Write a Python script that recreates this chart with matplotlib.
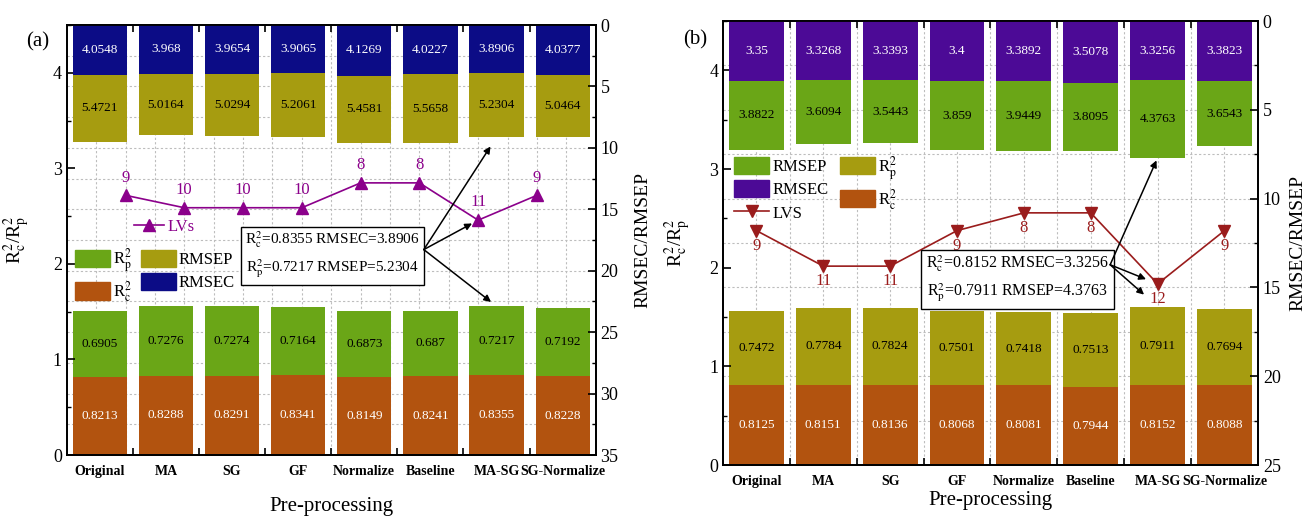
import numpy as np
import matplotlib
matplotlib.use("Agg")
import matplotlib.pyplot as plt
from matplotlib.patches import Patch
from matplotlib.lines import Line2D
from matplotlib.ticker import MultipleLocator, FixedLocator

plt.rcParams["font.family"] = ["Liberation Serif", "DejaVu Serif"]
plt.rcParams["mathtext.fontset"] = "stix"

# Categories (pre-processing methods)
CATEGORIES = ["Original", "MA", "SG", "GF", "Normalize", "Baseline", "MA-SG", "SG-Normalize"]

# Panel (a)
A_R2C = [0.8213, 0.8288, 0.8291, 0.8341, 0.8149, 0.8241, 0.8355, 0.8228]
A_R2P = [0.6905, 0.7276, 0.7274, 0.7164, 0.6873, 0.687, 0.7217, 0.7192]
A_RMSEC = [4.0548, 3.968, 3.9654, 3.9065, 4.1269, 4.0227, 3.8906, 4.0377]
A_RMSEP = [5.4721, 5.0164, 5.0294, 5.2061, 5.4581, 5.5658, 5.2304, 5.0464]
A_LVS = [9, 10, 10, 10, 8, 8, 11, 9]

# Panel (b)
B_R2C = [0.8125, 0.8151, 0.8136, 0.8068, 0.8081, 0.7944, 0.8152, 0.8088]
B_R2P = [0.7472, 0.7784, 0.7824, 0.7501, 0.7418, 0.7513, 0.7911, 0.7694]
B_RMSEC = [3.35, 3.3268, 3.3393, 3.4, 3.3892, 3.5078, 3.3256, 3.3823]
B_RMSEP = [3.8822, 3.6094, 3.5443, 3.859, 3.9449, 3.8095, 4.3763, 3.6543]
B_LVS = [9, 11, 11, 9, 8, 8, 12, 9]

NAVY = "#0c0c86"
OLIVE = "#a69c10"
GREEN = "#6aa617"
BROWN = "#b2530f"
INDIGO = "#4c0a96"
LV_A = "#8b008b"
LV_B = "#9a1c1c"

R2C_LABEL = r"R$^{2}_{\mathrm{c}}$"
R2P_LABEL = r"R$^{2}_{\mathrm{p}}$"


def draw_panel(fig, rect, r2c, r2p, rmsec, rmsep, lvs, cfg):
    x = np.arange(len(CATEGORIES))
    lv_x = np.arange(len(lvs)) + cfg["lv_x0"]

    # background grid layer (follows the RMSE axis and the LV x axis)
    ax_bg = fig.add_axes(rect, zorder=0)
    ax_bg.set_xlim(cfg["lv_xlim"])
    ax_bg.set_ylim(cfg["rmse_max"], 0)
    ax_bg.set_xticks(np.arange(cfg["lv_xlim"][0], cfg["lv_xlim"][1], 0.5)[1:])
    ax_bg.set_yticks(np.arange(2.5, cfg["rmse_max"], 2.5))
    ax_bg.grid(True, color="#bdbdbd", linestyle=(0, (2, 2)), linewidth=0.8)
    ax_bg.tick_params(length=0, labelleft=False, labelbottom=False)
    for s in ax_bg.spines.values():
        s.set_visible(False)

    # R2 bars, growing up from the bottom
    ax1 = fig.add_axes(rect, zorder=1)
    ax1.patch.set_visible(False)
    b1 = ax1.bar(x, r2c, width=0.82, color=cfg["c_r2c"])
    b2 = ax1.bar(x, r2p, width=0.82, bottom=r2c, color=cfg["c_r2p"])
    ax1.bar_label(b1, labels=[f"{v:g}" for v in r2c], label_type="center", color="white", fontsize=9.5)
    ax1.bar_label(b2, labels=[f"{v:g}" for v in r2p], label_type="center", color="black", fontsize=9.5)
    ax1.set_xlim(-0.5, len(CATEGORIES) - 0.5)
    ax1.set_ylim(0, 4.5)
    ax1.set_xticks(x)
    ax1.set_xticklabels(CATEGORIES, fontsize=10, fontweight="bold")
    ax1.xaxis.set_minor_locator(FixedLocator(x[:-1] + 0.5))
    ax1.tick_params(axis="x", which="major", length=0, pad=7)
    ax1.tick_params(axis="x", which="minor", direction="in", top=True, bottom=True, length=5, width=1.2)
    ax1.yaxis.set_major_locator(MultipleLocator(1))
    ax1.yaxis.set_minor_locator(MultipleLocator(0.5))
    ax1.tick_params(axis="y", which="major", direction="in", length=6, width=1.2, labelsize=13)
    ax1.tick_params(axis="y", which="minor", direction="in", length=3, width=1.0)
    ax1.set_xlabel("Pre-processing", fontsize=15, labelpad=cfg["xlabelpad"])
    ax1.set_ylabel(R2C_LABEL + "/" + R2P_LABEL, fontsize=14)
    ax1.yaxis.set_label_coords(cfg["ylab_l"], 0.5)
    for s in ax1.spines.values():
        s.set_linewidth(1.3)

    # RMSE bars, hanging from the top (inverted right axis)
    ax2 = ax1.twinx()
    b3 = ax2.bar(x, rmsec, width=0.82, color=cfg["c_rmsec"])
    b4 = ax2.bar(x, rmsep, width=0.82, bottom=rmsec, color=cfg["c_rmsep"])
    ax2.bar_label(b3, labels=[f"{v:g}" for v in rmsec], label_type="center", color="white", fontsize=9.5)
    ax2.bar_label(b4, labels=[f"{v:g}" for v in rmsep], label_type="center", color="black", fontsize=9.5)
    ax2.set_ylim(cfg["rmse_max"], 0)
    ax2.yaxis.set_major_locator(MultipleLocator(5))
    ax2.yaxis.set_minor_locator(MultipleLocator(2.5))
    ax2.tick_params(axis="y", which="major", direction="in", length=6, width=1.2, labelsize=13)
    ax2.tick_params(axis="y", which="minor", direction="in", length=3, width=1.0)
    ax2.set_ylabel("RMSEC/RMSEP", fontsize=14)
    ax2.yaxis.set_label_coords(cfg["ylab_r"], 0.5)
    for s in ax2.spines.values():
        s.set_linewidth(1.3)

    # LVs line on its own layer
    ax3 = fig.add_axes(rect, zorder=3)
    ax3.patch.set_visible(False)
    ax3.axis("off")
    ax3.set_xlim(cfg["lv_xlim"])
    ax3.set_ylim(cfg["lv_ylim"])
    ax3.plot(lv_x, lvs, color=cfg["c_lv"], marker=cfg["lv_marker"], markersize=9, linewidth=1.2)
    for xi, v in zip(lv_x, lvs):
        ax3.annotate(str(v), (xi, v), xytext=(0, cfg["lv_off"]), textcoords="offset points",
                     ha="center", va="bottom" if cfg["lv_off"] > 0 else "top",
                     color=cfg["c_lv"], fontsize=12)

    # highlight box for the best model (MA-SG) with arrows
    best = CATEGORIES.index("MA-SG")
    box_text = (R2C_LABEL + f"={r2c[best]:g} RMSEC={rmsec[best]:g}\n"
                + R2P_LABEL + f"={r2p[best]:g} RMSEP={rmsep[best]:g}")
    ax3.text(cfg["box_xy"][0], cfg["box_xy"][1], box_text, transform=ax1.transData,
             ha="center", va="center", fontsize=cfg["box_fs"], linespacing=1.5,
             bbox=dict(boxstyle="square,pad=0.3", fc="white", ec="black", lw=1.0))
    arrow = dict(arrowstyle="-|>", color="black", lw=1.1, shrinkA=0, mutation_scale=10)
    start = cfg["arrow_start"]
    ax3.annotate("", xy=(best, rmsec[best] + rmsep[best]), xycoords=ax2.transData,
                 xytext=start, textcoords=ax1.transData,
                 arrowprops=dict(arrow, shrinkB=cfg["shrink"][0]))
    ax3.annotate("", xy=(lv_x[best], lvs[best]), xycoords="data",
                 xytext=start, textcoords=ax1.transData,
                 arrowprops=dict(arrow, shrinkB=cfg["shrink"][1]))
    ax3.annotate("", xy=(best, r2c[best] + r2p[best]), xycoords=ax1.transData,
                 xytext=start, textcoords=ax1.transData,
                 arrowprops=dict(arrow, shrinkB=cfg["shrink"][2]))
    return ax3


fig = plt.figure(figsize=(13.11, 5.18), dpi=100)

# ---- panel (a)
ax_a = draw_panel(fig, [0.0509, 0.1216, 0.4035, 0.830], A_R2C, A_R2P, A_RMSEC, A_RMSEP, A_LVS, dict(
    c_r2c=BROWN, c_r2p=GREEN, c_rmsec=NAVY, c_rmsep=OLIVE, c_lv=LV_A, lv_marker="^",
    rmse_max=35, lv_xlim=(0, 9), lv_x0=1, lv_ylim=(29.9, -4.7), lv_off=7,
    xlabelpad=14, ylab_l=-0.066, ylab_r=1.074,
    box_xy=(3.52, 2.095), box_fs=11, arrow_start=(4.9, 2.15), shrink=(8, 5, 5)))

lv_a = Line2D([], [], color=LV_A, marker="^", markersize=9, linewidth=1.2)
leg1 = ax_a.legend([lv_a], ["LVs"], loc="center left", bbox_to_anchor=(0.115, 0.53),
                   frameon=False, fontsize=12, handlelength=1.8, handletextpad=0.2,
                   labelcolor=LV_A, borderaxespad=0)
ax_a.add_artist(leg1)
ax_a.legend([Patch(color=GREEN), Patch(color=BROWN), Patch(color=OLIVE), Patch(color=NAVY)],
            [R2P_LABEL, R2C_LABEL, "RMSEP", "RMSEC"], ncol=2, loc="upper left",
            bbox_to_anchor=(0.0, 0.505), frameon=False, fontsize=12, handlelength=2.1,
            handleheight=1.2, handletextpad=0.2, columnspacing=0.5, labelspacing=0.3,
            borderaxespad=0.1)

# ---- panel (b)
ax_b = draw_panel(fig, [0.5515, 0.1023, 0.408, 0.857], B_R2C, B_R2P, B_RMSEC, B_RMSEP, B_LVS, dict(
    c_r2c=BROWN, c_r2p=OLIVE, c_rmsec=INDIGO, c_rmsep=GREEN, c_lv=LV_B, lv_marker="v",
    rmse_max=25, lv_xlim=(-0.5, 7.5), lv_x0=0, lv_ylim=(22.2, -2.8), lv_off=-5,
    xlabelpad=2, ylab_l=-0.056, ylab_r=1.058,
    box_xy=(3.905, 1.89), box_fs=11.5, arrow_start=(5.29, 2.03), shrink=(2, 9, 13)))

lv_b = Line2D([], [], color=LV_B, marker="v", markersize=9, linewidth=1.2)
ax_b.legend([Patch(color=GREEN), Patch(color=INDIGO), lv_b, Patch(color=OLIVE), Patch(color=BROWN)],
            ["RMSEP", "RMSEC", "LVS", R2P_LABEL, R2C_LABEL], ncol=2, loc="upper left",
            bbox_to_anchor=(0.005, 0.72), frameon=False, fontsize=12, handlelength=2.1,
            handleheight=1.2, handletextpad=0.2, columnspacing=0.7, labelspacing=0.3,
            borderaxespad=0.1)

fig.text(38 / 1311, 1 - 42 / 518, "(a)", fontsize=15, ha="center", va="center")
fig.text(695 / 1311, 1 - 40 / 518, "(b)", fontsize=15, ha="center", va="center")

fig.savefig("out.png", dpi=100)
